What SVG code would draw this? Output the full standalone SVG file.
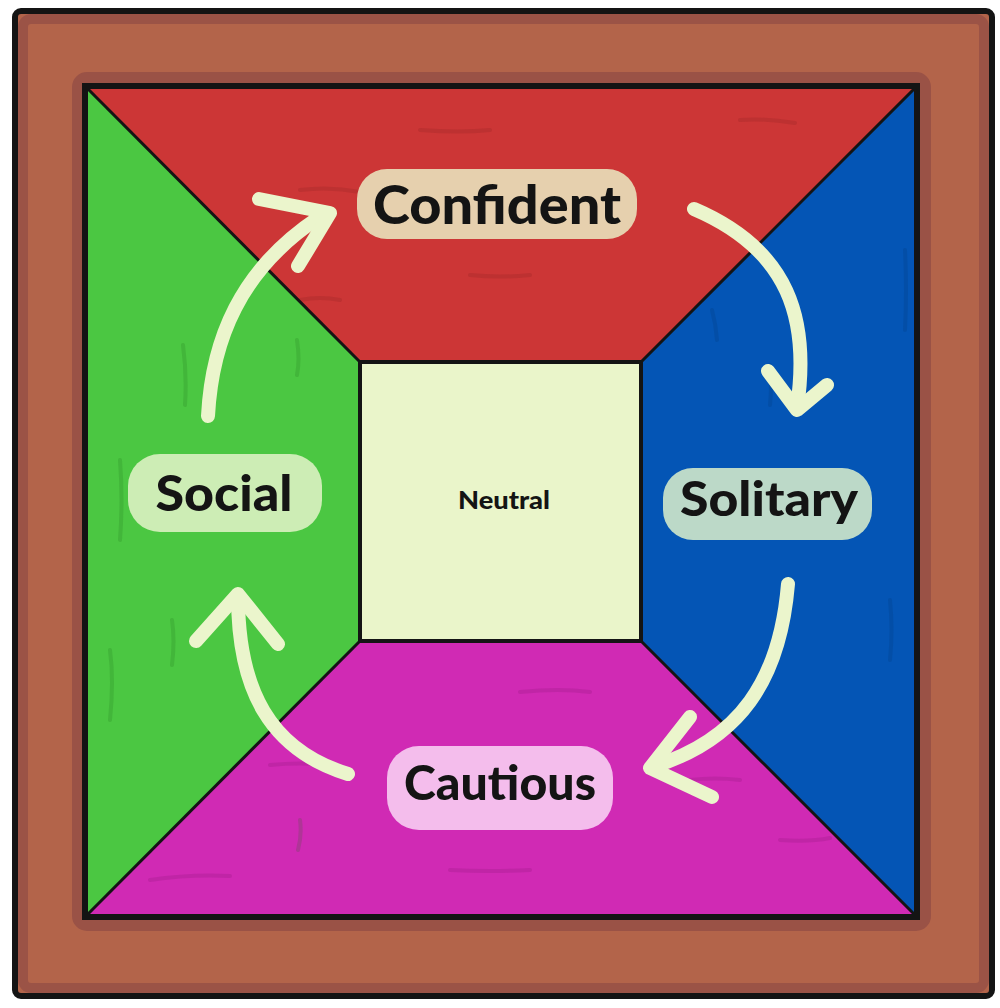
<svg xmlns="http://www.w3.org/2000/svg" width="1000" height="1008" viewBox="0 0 1000 1008">
<defs>
<style>
.lbl{font-family:Lato,"Noto Sans","Liberation Sans",sans-serif;font-weight:900;fill:#141414;text-anchor:middle}
.arrow{fill:none;stroke:#EBF5CC;stroke-width:14;stroke-linecap:round;stroke-linejoin:round}
.edge{fill:none;stroke:#141414;stroke-width:3}
.streak{fill:none;stroke-width:4;stroke-linecap:round;opacity:0.18}
</style>
</defs>
<rect width="1000" height="1008" fill="#ffffff"/>
<g id="frame">
<rect x="15" y="11" width="977" height="985" rx="6" fill="#B3644A" stroke="#141414" stroke-width="6"/>
<rect x="23" y="19" width="961" height="969" rx="8" fill="none" stroke="#924C45" stroke-width="10" opacity="0.7"/>
<rect x="79" y="79" width="845" height="845" rx="8" fill="none" stroke="#924C45" stroke-width="14" opacity="0.75"/>
</g>
<g id="node-confident">
<polygon points="85,86 917,86 641,362 360,362" fill="#CC3636"/>
<path class="streak" stroke="#7a1d1d" d="M300,190 q30,-4 60,2 M470,275 q30,3 60,0 M420,130 q40,3 70,0 M740,120 q25,-2 55,3 M300,300 q20,-4 40,0"/>
<rect x="357" y="169" width="280" height="70" rx="30" fill="#E6D0AE"/>
<text class="lbl" x="497" y="224" font-size="53" textLength="248" lengthAdjust="spacingAndGlyphs">Confident</text>
</g>
<g id="node-solitary">
<polygon points="917,86 917,917 641,641 641,362" fill="#0455B5"/>
<path class="streak" stroke="#02306b" d="M712,310 q4,15 5,30 M770,365 q2,20 0,40 M905,250 q2,40 0,80 M890,600 q3,30 0,60"/>
<rect x="663" y="468" width="209" height="72" rx="30" fill="#BCD9C8"/>
<text class="lbl" x="769" y="516" font-size="48" textLength="178" lengthAdjust="spacingAndGlyphs">Solitary</text>
</g>
<g id="node-cautious">
<polygon points="85,917 917,917 641,641 360,641" fill="#D02AB4"/>
<path class="streak" stroke="#7a0f68" d="M520,692 q40,-4 70,0 M150,880 q40,-6 80,-4 M690,780 q25,-3 50,0 M270,765 q30,-3 60,0 M450,870 q40,2 80,0 M780,840 q30,2 50,-2"/>
<rect x="387" y="746" width="226" height="84" rx="32" fill="#F4BDEC"/>
<text class="lbl" x="500" y="800" font-size="48" textLength="192" lengthAdjust="spacingAndGlyphs">Cautious</text>
</g>
<g id="node-social">
<polygon points="85,86 360,362 360,641 85,917" fill="#4BC742"/>
<path class="streak" stroke="#1d6a17" d="M183,345 q4,30 2,60 M297,340 q3,20 0,35 M120,460 q3,40 0,80 M110,650 q4,30 0,70 M300,820 q2,15 -2,30 M172,620 q3,20 0,45"/>
<rect x="128" y="454" width="194" height="78" rx="32" fill="#CDEDB5"/>
<text class="lbl" x="224" y="511" font-size="50" textLength="137" lengthAdjust="spacingAndGlyphs">Social</text>
</g>
<g id="node-neutral">
<rect x="360" y="362" width="281" height="279" fill="#EAF5CA"/>
<text class="lbl" x="504" y="509" font-size="25" textLength="92" lengthAdjust="spacingAndGlyphs">Neutral</text>
</g>
<g id="edges">
<line class="edge" x1="85" y1="86" x2="360" y2="362"/>
<line class="edge" x1="917" y1="86" x2="641" y2="362"/>
<line class="edge" x1="85" y1="917" x2="360" y2="641"/>
<line class="edge" x1="917" y1="917" x2="641" y2="641"/>
<rect x="360" y="362" width="281" height="279" fill="none" stroke="#141414" stroke-width="4"/>
<rect x="85" y="86" width="832" height="831" fill="none" stroke="#141414" stroke-width="6"/>
</g>
<g id="connectors">
<path class="arrow" d="M208,416 C212,340 240,270 318,218"/>
<path class="arrow" d="M259,199 L330,213 L298,266"/>
<path class="arrow" d="M694,209 C790,250 810,320 797,408"/>
<path class="arrow" d="M768,371 L797,410 L827,385"/>
<path class="arrow" d="M788,584 C780,680 740,740 652,767"/>
<path class="arrow" d="M690,717 L650,768 L712,797"/>
<path class="arrow" d="M348,774 C270,750 238,690 238,596"/>
<path class="arrow" d="M196,641 L238,594 L278,644"/>
</g>
</svg>
